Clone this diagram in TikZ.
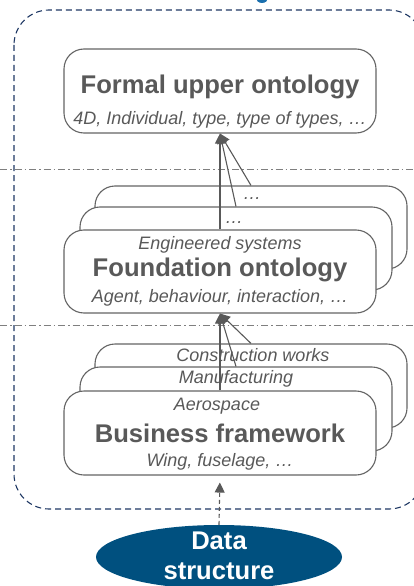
\documentclass[tikz,border=0pt]{standalone}
\usepackage{fontspec}
\setmainfont{Liberation Sans}
\usetikzlibrary{arrows.meta,shapes.geometric}
\definecolor{txt}{HTML}{595959}
\definecolor{edge}{HTML}{646464}
\definecolor{navy}{HTML}{1F3864}
\definecolor{sepc}{HTML}{7F7F7F}
\definecolor{dsblue}{HTML}{00507F}
\definecolor{topblue}{HTML}{1A6FAE}
\begin{document}
\begin{tikzpicture}[x=1pt,y=-1pt,
  box/.style={draw=edge, line width=1.1pt, fill=white, rounded corners=20pt,
    minimum width=312pt, minimum height=83pt, inner sep=0pt},
  ttl/.style={text=txt, font=\fontsize{25.6}{30}\selectfont\bfseries, inner sep=0pt},
  sub/.style={text=txt, font=\fontsize{18}{21}\selectfont\itshape, inner sep=0pt},
  arr/.style={draw=txt, line width=1.1pt, -{Triangle[length=10pt,width=10pt]}},
  sepline/.style={draw=sepc, line width=0.9pt, dash pattern=on 7pt off 3pt on 1.5pt off 3pt},
  container/.style={draw=navy, line width=1.1pt, dash pattern=on 6pt off 4pt, rounded corners=35pt},
]
\useasboundingbox (0,0) rectangle (414,586);
\clip (0,0) rectangle (414,586);

% partial element cut at top
\fill[topblue] (262,-2) ellipse [x radius=6pt, y radius=5pt];

% container
\draw[container] (14,10) rectangle (424,509);

% separators
\coordinate (s1a) at (0,169); \coordinate (s1b) at (414,169);
\coordinate (s2a) at (0,325); \coordinate (s2b) at (414,325);
\draw[sepline] (s1a) -- (s1b);
\draw[sepline] (s2a) -- (s2b);

% formal upper ontology
\node[box, minimum height=84pt] (formal) at (220,91) {};
\node[ttl] (formalt) at (220,86.5) {Formal upper ontology};
\node[sub] (formals) at (220,119.5) {4D, Individual, type, type of types, …};

% foundation stack
\node[box] (fnd3) at (251,227.5) {};
\node[box] (fnd2) at (236,248.5) {};
\node[box] (fnd1) at (220,271.5) {};
\node[sub] (fnd3t) at (252,199) {…};
\node[sub] (fnd2t) at (234,223) {…};
\node[sub] (fnd1a) at (220,244.5) {Engineered systems};
\node[ttl] (fnd1t) at (220,269.5) {Foundation ontology};
\node[sub] (fnd1s) at (220,297.5) {Agent, behaviour, interaction, …};

% business stack
\node[box, minimum height=84pt] (bus3) at (251,386) {};
\node[box, minimum height=84pt] (bus2) at (236,409) {};
\node[box, minimum height=84pt] (bus1) at (220,433) {};
\node[sub] (bus3t) at (253,355) {Construction works};
\node[sub] (bus2t) at (236,379) {Manufacturing};
\node[sub] (bus1a) at (217,406.5) {Aerospace};
\node[ttl] (bus1t) at (220,433.5) {Business framework};
\node[sub] (bus1s) at (220,462) {Wing, fuselage, …};

% arrows
\draw[arr] (fnd3.north) -- (formal.south);
\draw[arr] (fnd2.north) -- (formal.south);
\draw[arr] (fnd1.north) -- (formal.south);
\draw[arr] (bus3.north) -- (fnd1.south);
\draw[arr] (bus2.north) -- (fnd1.south);
\draw[arr] (bus1.north) -- (fnd1.south);

% data structure
\node[ellipse, fill=dsblue, minimum width=246pt, minimum height=64pt, inner sep=0pt] (data) at (219,557) {};
\node[text=white, font=\fontsize{25.6}{30}\selectfont\bfseries, align=center, inner sep=0pt] (datat) at (219,555.5) {Data\\structure};
\draw[draw=txt, line width=1.1pt, dash pattern=on 4pt off 3pt, -{Triangle[length=10pt,width=10pt]}, shorten >=7pt] (data.north) -- (bus1.south);
\end{tikzpicture}
\end{document}
